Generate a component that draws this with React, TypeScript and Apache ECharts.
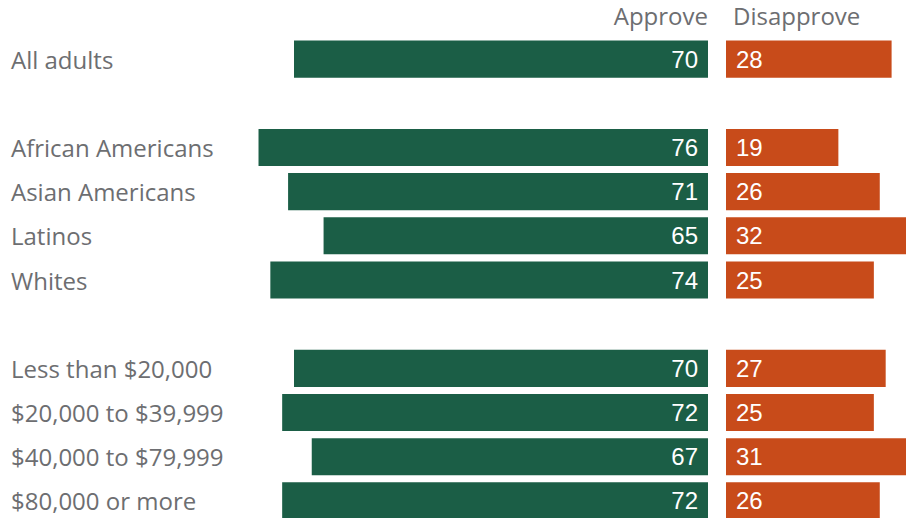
import React, { useEffect, useRef } from "react";
import * as echarts from "echarts";

const categories = [
  "All adults",
  "",
  "African Americans",
  "Asian Americans",
  "Latinos",
  "Whites",
  " ",
  "Less than $20,000",
  "$20,000 to $39,999",
  "$40,000 to $79,999",
  "$80,000 or more",
];
const approve: (number | null)[] = [70, null, 76, 71, 65, 74, null, 70, 72, 67, 72];
const disapprove: (number | null)[] = [28, null, 19, 26, 32, 25, null, 27, 25, 31, 26];
const headers = ["Approve", "Disapprove"];

const GREEN = "#1b5e46";
const ORANGE = "#c84b1a";
const GRAY = "#6d6e71";
const LABEL_FONT = "'Open Sans', sans-serif";
const NUM_FONT = "'Liberation Sans', Arial, sans-serif";

export default function App() {
  const ref = useRef<HTMLDivElement>(null);
  useEffect(() => {
    document.body.style.margin = "0";
    document.body.style.overflow = "hidden";
    const chart = echarts.init(ref.current!, null, { renderer: "svg" });
    const k = 414 / 70; // px per unit
    const approveRight = 708;
    const approveMax = 100;
    const approveLeft = approveRight - approveMax * k;
    const disLeft = 726;
    const disMax = (906 - disLeft) / k;
    const top = 37;
    const height = 486;
    chart.setOption({
      animation: false,
      grid: [
        { left: approveLeft, width: approveMax * k, top, height },
        { left: disLeft, right: 0, top, height },
      ],
      xAxis: [
        { type: "value", gridIndex: 0, min: 0, max: approveMax, inverse: true, show: false },
        { type: "value", gridIndex: 1, min: 0, max: disMax, show: false },
      ],
      yAxis: [
        {
          type: "category",
          gridIndex: 0,
          data: categories,
          inverse: true,
          axisLine: { show: false },
          axisTick: { show: false },
          axisLabel: {
            align: "left",
            margin: approveLeft - 11,
            color: GRAY,
            fontSize: 24,
            fontFamily: LABEL_FONT,
          },
        },
        { type: "category", gridIndex: 1, data: categories, inverse: true, show: false },
      ],
      series: [
        {
          type: "bar",
          xAxisIndex: 0,
          yAxisIndex: 0,
          data: approve,
          barCategoryGap: "16%",
          itemStyle: { color: GREEN },
          label: {
            show: true,
            position: "insideRight",
            distance: 10,
            color: "#fff",
            fontSize: 24,
            fontFamily: NUM_FONT,
          },
        },
        {
          type: "bar",
          xAxisIndex: 1,
          yAxisIndex: 1,
          data: disapprove,
          barCategoryGap: "16%",
          clip: true,
          itemStyle: { color: ORANGE },
          label: {
            show: true,
            position: "insideLeft",
            distance: 10,
            color: "#fff",
            fontSize: 24,
            fontFamily: NUM_FONT,
          },
        },
      ],
      graphic: [
        {
          type: "text",
          right: 906 - approveRight,
          top: 3,
          style: { text: headers[0], fill: GRAY, fontSize: 24, fontFamily: LABEL_FONT },
        },
        {
          type: "text",
          left: 733,
          top: 3,
          style: { text: headers[1], fill: GRAY, fontSize: 24, fontFamily: LABEL_FONT },
        },
      ],
    });
    return () => chart.dispose();
  }, []);
  return (
    <div style={{ width: 906, height: 518, overflow: "hidden" }}>
      <div ref={ref} style={{ width: 906, height: 530 }} />
    </div>
  );
}
